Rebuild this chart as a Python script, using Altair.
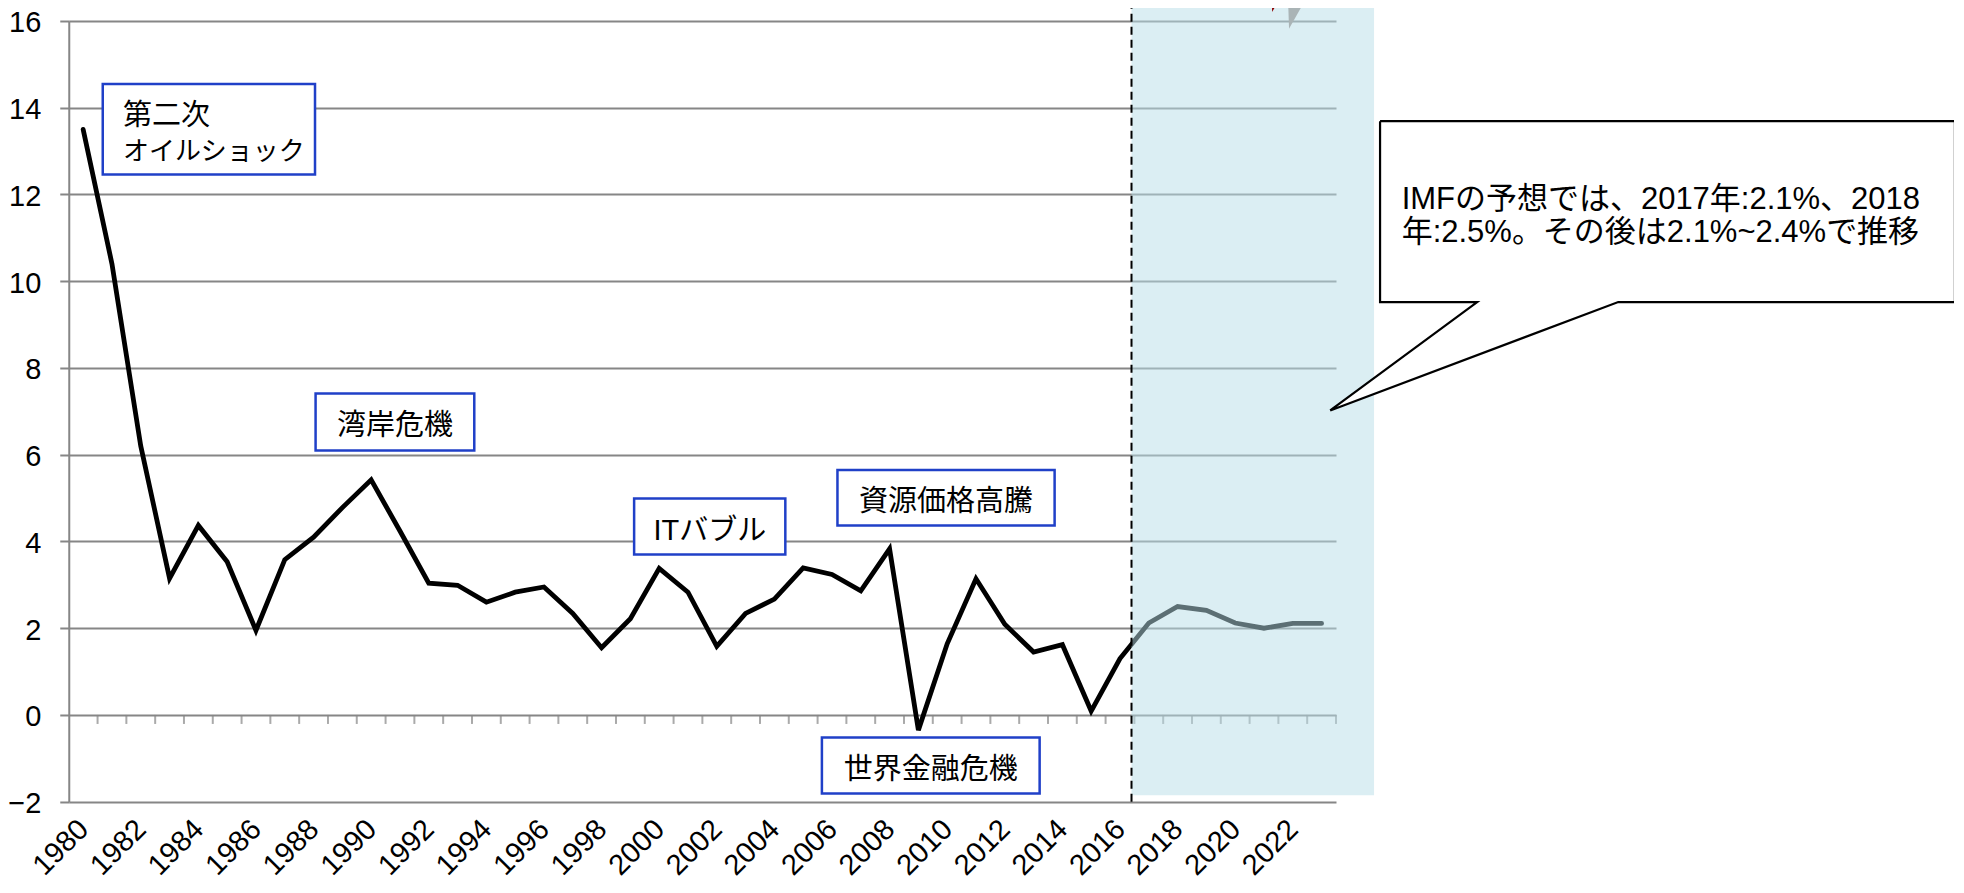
import altair as alt
import pandas as pd

# ---------------- data ----------------
years = list(range(1980, 2024))
growth = [13.5, 10.4, 6.2, 3.15, 4.37, 3.53, 1.95, 3.58, 4.10, 4.78,
          5.42, 4.24, 3.04, 2.99, 2.60, 2.83, 2.95, 2.34, 1.55, 2.22,
          3.38, 2.83, 1.58, 2.34, 2.67, 3.39, 3.24, 2.86, 3.83, -0.35,
          1.64, 3.14, 2.09, 1.45, 1.62, 0.09, 1.30, 2.12, 2.50, 2.41,
          2.12, 2.00, 2.11, 2.11]

x_label_years = [1980, 1982, 1984, 1986, 1988, 1990, 1992, 1994, 1996, 1998, 2000,
                 2002, 2004, 2006, 2008, 2010, 2012, 2014, 2016, 2018, 2020, 2022]
y_ticks = [-2, 0, 2, 4, 6, 8, 10, 12, 14, 16]

# ---------------- annotations (data units) ----------------
box_x1 = [1980.68, 1988.07, 1999.13, 2006.19, 2005.65]
box_x2 = [1988.05, 1993.58, 2004.38, 2013.73, 2013.21]
box_y1 = [12.46, 6.10, 3.70, 4.37, -1.81]
box_y2 = [14.55, 7.41, 4.99, 5.65, -0.52]

center_labels = ["湾岸危機", "ITバブル", "資源価格高騰", "世界金融危機"]
center_x = [1990.83, 2001.76, 2009.96, 2009.43]
center_y = [6.66, 4.25, 4.91, -1.28]

oil_line1 = ["第二次"]
oil_line2 = ["オイルショック"]
oil_x = [1981.38]
oil_y1 = [13.82]
oil_y2 = [12.99]

callout_lines = ["IMFの予想では、2017年:2.1%、2018", "年:2.5%。その後は2.1%~2.4%で推移"]
callout_x = [2025.78, 2025.78]
callout_y = [11.88, 11.11]

callout_box = {"x1": [2025.03], "x2": [2044.99], "y1": [9.52], "y2": [13.69]}
pointer_x = [2023.3, 2028.4, 2033.3]
pointer_lo = [7.02, 8.29, 9.52]
pointer_hi = [7.02, 9.52, 9.52]
outline_x = [2025.03, 2044.99, 2044.99, 2033.3, 2023.3, 2028.4, 2025.03, 2025.03]
outline_y = [13.69, 13.69, 9.52, 9.52, 7.02, 9.52, 9.52, 13.69]

forecast_start = 2016.4
shade = {"x1": [forecast_start], "x2": [2024.82], "y1": [-1.85], "y2": [16.6]}
divider = {"x": [forecast_start], "y1": [-2], "y2": [16.6]}

frag_red = {"x": [2021.28, 2021.52], "lo": [16.21, 16.47], "hi": [16.6, 16.6]}
frag_grey = {"x": [2021.83, 2021.87, 2022.53], "lo": [16.6, 15.82, 16.6], "hi": [16.6, 16.6, 16.6]}

# ---------------- styles ----------------
FONT = "Liberation Sans, Arial, Noto Sans CJK JP"
GRID = "#868686"
BLUE = "#2040C8"
X = alt.Scale(domain=[1979.5, 2023.5], nice=False, zero=False)
Y = alt.Scale(domain=[-2, 16], nice=False, zero=False)

X_AXIS = alt.Axis(
    values=x_label_years, format="d", labelAngle=-45, labelAlign="right",
    labelBaseline="middle", labelPadding=22.5, tickSize=0, labelFontSize=29, labelFont=FONT,
    labelColor="black", ticks=False, domain=False, grid=False, title=None,
    labelOverlap=False, labelBound=False, labelFlush=False)
Y_AXIS = alt.Axis(
    values=y_ticks, grid=True, gridColor=GRID, gridWidth=2, domainColor=GRID,
    domainWidth=2, tickColor=GRID, tickWidth=2, tickSize=9, labelPadding=19,
    labelFontSize=29, labelOffset=2, labelFont=FONT, labelColor="black", title=None,
    labelFlush=False)


def xq(f):
    return alt.X(f, type="quantitative", scale=X, axis=X_AXIS)


def yq(f):
    return alt.Y(f, type="quantitative", scale=Y, axis=Y_AXIS)


series = pd.DataFrame({"year": years, "growth": growth})

line = alt.Chart(series).mark_line(color="black", strokeWidth=4.8, strokeCap="round", clip=False).encode(
    x=xq("year"), y=yq("growth"))

ticks = alt.Chart(series).transform_calculate(b="datum.year + 0.5", zero="0").mark_tick(
    orient="vertical", size=9, thickness=2, color=GRID, yOffset=4.5).encode(
    x=xq("b"), y=yq("zero"))

shade_layer = alt.Chart(pd.DataFrame(shade)).mark_rect(
    fill="#B7DEE8", fillOpacity=0.5, clip=False).encode(
    x=xq("x1"), x2="x2", y=yq("y1"), y2="y2")

divider_layer = alt.Chart(pd.DataFrame(divider)).mark_rule(
    color="black", strokeWidth=2, strokeDash=[8, 5], clip=False).encode(
    x=xq("x"), y=yq("y1"), y2="y2")

frag_r = alt.Chart(pd.DataFrame(frag_red)).mark_area(color="#8B0000", clip=False).encode(
    x=xq("x"), y=yq("lo"), y2="hi")
frag_g = alt.Chart(pd.DataFrame(frag_grey)).mark_area(color="#AAB4B6", clip=False).encode(
    x=xq("x"), y=yq("lo"), y2="hi")

boxes = alt.Chart(pd.DataFrame({"x1": box_x1, "x2": box_x2, "y1": box_y1, "y2": box_y2})).mark_rect(
    fill="white", stroke=BLUE, strokeWidth=2.5, clip=False).encode(
    x=xq("x1"), x2="x2", y=yq("y1"), y2="y2")

center_text = alt.Chart(pd.DataFrame({"t": center_labels, "x": center_x, "y": center_y})).mark_text(
    font=FONT, fontSize=29, color="black", align="center", baseline="middle").encode(
    x=xq("x"), y=yq("y"), text="t:N")

oil1 = alt.Chart(pd.DataFrame({"t": oil_line1, "x": oil_x, "y": oil_y1})).mark_text(
    font=FONT, fontSize=29, color="black", align="left", baseline="middle").encode(
    x=xq("x"), y=yq("y"), text="t:N")
oil2 = alt.Chart(pd.DataFrame({"t": oil_line2, "x": oil_x, "y": oil_y2})).mark_text(
    font=FONT, fontSize=26, color="black", align="left", baseline="middle").encode(
    x=xq("x"), y=yq("y"), text="t:N")

cbox = alt.Chart(pd.DataFrame(callout_box)).mark_rect(fill="white", clip=False).encode(
    x=xq("x1"), x2="x2", y=yq("y1"), y2="y2")
cpointer = alt.Chart(pd.DataFrame({"x": pointer_x, "lo": pointer_lo, "hi": pointer_hi})).mark_area(
    color="white", clip=False).encode(x=xq("x"), y=yq("lo"), y2="hi")
coutline = alt.Chart(pd.DataFrame({"x": outline_x, "y": outline_y, "i": list(range(len(outline_x)))})).mark_line(
    color="black", strokeWidth=2.2, strokeJoin="miter", clip=False).encode(
    x=xq("x"), y=yq("y"), order="i:Q")
ctext = alt.Chart(pd.DataFrame({"t": callout_lines, "x": callout_x, "y": callout_y})).mark_text(
    font=FONT, fontSize=31, color="black", align="left", baseline="middle").encode(
    x=xq("x"), y=yq("y"), text="t:N")

chart = alt.layer(
    line, ticks, shade_layer, divider_layer, frag_r, frag_g,
    boxes, center_text, oil1, oil2,
    cbox, cpointer, coutline, ctext,
).properties(
    width=1267.25, height=780.7,
    padding={"left": 60.75, "top": 13, "right": 618, "bottom": 79},
    autosize=alt.AutoSizeParams(type="none"),
    background="white",
).configure_view(stroke=None)

chart.save("out.html", embed_options={"renderer": "svg", "actions": False})
